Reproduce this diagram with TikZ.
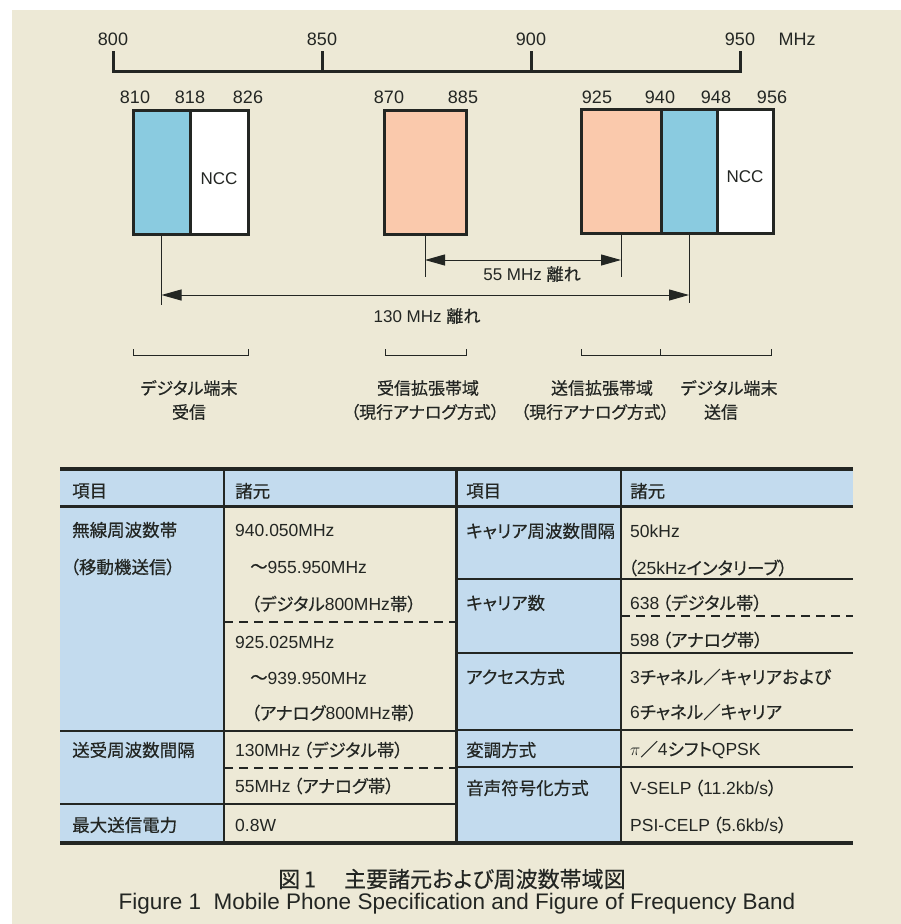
\documentclass[tikz,border=0pt]{standalone}
\usepackage{fontspec}
\setmainfont{Liberation Sans}
\newfontfamily\jp[RawFeature=+palt,FakeBold=0.4]{Noto Sans CJK JP}
\usetikzlibrary{arrows.meta}
\definecolor{bg}{RGB}{237,233,214}
\definecolor{bandblue}{RGB}{138,203,224}
\definecolor{salmon}{RGB}{250,201,172}
\definecolor{tblue}{RGB}{195,219,238}
\definecolor{ink}{RGB}{35,38,35}
\begin{document}
\begin{tikzpicture}[x=1pt,y=-1pt,
  cell/.style={draw=ink,line width=3pt,inner sep=0pt,outer sep=0pt,anchor=north west,minimum height=124pt},
  conn/.style={draw=ink,line width=1pt},
  dim/.style={conn,{Triangle[length=20pt,width=11pt]}-{Triangle[length=20pt,width=11pt]}},
  axisline/.style={draw=ink,line width=3pt},
  num/.style={inner sep=0pt,text=ink,font=\fontsize{18}{20}\selectfont},
  lab/.style={inner sep=0pt,text=ink,font=\fontsize{17}{20}\selectfont},
  tx/.style={inner sep=0pt,text=ink,anchor=west,font=\fontsize{17.5}{20}\selectfont},
  heavyrule/.style={draw=ink,line width=3.5pt},
  midrule/.style={draw=ink,line width=3pt},
  thinrule/.style={draw=ink,line width=1.3pt},
  dashrule/.style={draw=ink,line width=1.3pt,dash pattern=on 9pt off 6pt},
  bracket/.style={draw=ink,line width=1pt}
]
\useasboundingbox (0,0) rectangle (901,924);
\fill[bg] (12,10) rectangle (901,924);

% ---- frequency axis
\draw[axisline] (113,51) -- (113,71) -- (740,71) -- (740,51);
\draw[axisline] (322,71) -- (322,51);
\draw[axisline] (531,71) -- (531,51);
\node[num] (a800) at (113,39) {800};
\node[num] (a850) at (322,39) {850};
\node[num] (a900) at (531,39) {900};
\node[num] (a950) at (740,39) {950};
\node[num] (amhz) at (797,39) {MHz};

% ---- band boxes
\node[cell,fill=bandblue,minimum width=57pt] (b1a) at (133,110) {};
\node[cell,fill=white,minimum width=58pt] (b1b) at (190,110) {};
\node[lab] (ncc1) at (219,179) {NCC};
\node[cell,fill=salmon,minimum width=82pt] (b2) at (384,110) {};
\node[cell,fill=salmon,minimum width=80pt] (c3a) at (581,109) {};
\node[cell,fill=bandblue,minimum width=56pt] (c3b) at (661,109) {};
\node[cell,fill=white,minimum width=56pt] (c3c) at (717,109) {};
\node[lab] (ncc2) at (745,177) {NCC};

\node[num] (n810) at (135,97) {810};
\node[num] (n818) at (190,97) {818};
\node[num] (n826) at (248,97) {826};
\node[num] (n870) at (389,97) {870};
\node[num] (n885) at (463,97) {885};
\node[num] (n925) at (597,97) {925};
\node[num] (n940) at (660,97) {940};
\node[num] (n948) at (716,97) {948};
\node[num] (n956) at (772,97) {956};

% ---- separation connectors
\coordinate (e1) at (0,305);
\coordinate (e2) at (0,277);
\coordinate (e4) at (0,303);
\coordinate (y55) at (0,260);
\coordinate (y130) at (0,295);
\draw[conn] (b1a.south) -- (b1a.south |- e1);
\draw[conn] (b2.south) -- (b2.south |- e2);
\draw[conn] (c3a.south) -- (c3a.south |- e2);
\draw[conn] (c3b.south) -- (c3b.south |- e4);
\draw[dim] (b2.south |- y55) -- (c3a.south |- y55);
\draw[dim] (b1a.south |- y130) -- (c3b.south |- y130);
\node[lab] (l55) at (532,274) {55 MHz {\jp 離れ}};
\node[lab] (l130) at (427,316) {130 MHz {\jp 離れ}};

% ---- brackets
\draw[bracket] (133,349) -- (133,355) -- (248,355) -- (248,349);
\draw[bracket] (385,349) -- (385,355) -- (466,355) -- (466,349);
\draw[bracket] (581,349) -- (581,355) -- (771,355) -- (771,349);
\draw[bracket] (660,349) -- (660,355);
\node[lab] (d1a) at (189,388) {\jp デジタル端末};
\node[lab] (d1b) at (189,412) {\jp 受信};
\node[lab] (d2a) at (428,388) {\jp 受信拡張帯域};
\node[lab] (d2b) at (425,412) {\jp （現行アナログ方式）};
\node[lab] (d3a) at (602,388) {\jp 送信拡張帯域};
\node[lab] (d3b) at (595,412) {\jp （現行アナログ方式）};
\node[lab] (d4a) at (729,388) {\jp デジタル端末};
\node[lab] (d4b) at (721,412) {\jp 送信};

% ---- table fills
\fill[tblue] (60,469) rectangle (853,506);
\fill[tblue] (60,506) rectangle (224,843);
\fill[tblue] (456,506) rectangle (621,843);

% ---- table rules
\draw[thinrule] (224,469) -- (224,843);
\draw[thinrule] (621,469) -- (621,843);
\draw[thinrule] (60,731) -- (456,731);
\draw[thinrule] (60,804) -- (456,804);
\draw[thinrule] (456,579) -- (853,579);
\draw[thinrule] (456,653) -- (853,653);
\draw[thinrule] (456,730) -- (853,730);
\draw[thinrule] (456,767) -- (853,767);
\draw[dashrule] (224,622) -- (456,622);
\draw[dashrule] (224,768) -- (456,768);
\draw[dashrule] (621,616) -- (853,616);
\draw[heavyrule] (60,469) -- (853,469);
\draw[midrule] (60,506) -- (853,506);
\draw[heavyrule] (60,843) -- (853,843);
\draw[midrule] (456,469) -- (456,843);

% ---- table text, left half
\node[tx] (h1) at (72,491) {\jp 項目};
\node[tx] (h2) at (235,491) {\jp 諸元};
\node[tx] (r1a) at (72,530) {\jp 無線周波数帯};
\node[tx] (r1b) at (70,567) {\jp （移動機送信）};
\node[tx] (v1) at (235,530) {940.050MHz};
\node[tx] (v2) at (250,567) {{\jp ～}955.950MHz};
\node[tx] (v3) at (251,604) {{\jp （デジタル}800MHz{\jp 帯）}};
\node[tx] (v4) at (235,642) {925.025MHz};
\node[tx] (v5) at (250,678) {{\jp ～}939.950MHz};
\node[tx] (v6) at (251,713) {{\jp （アナログ}800MHz{\jp 帯）}};
\node[tx] (r2) at (72,750) {\jp 送受周波数間隔};
\node[tx] (v7) at (235,750) {130MHz\,{\jp （デジタル帯）}};
\node[tx] (v8) at (235,786) {55MHz\,{\jp （アナログ帯）}};
\node[tx] (r3) at (72,825) {\jp 最大送信電力};
\node[tx] (v9) at (235,825) {0.8W};

% ---- table text, right half
\node[tx] (h3) at (466,491) {\jp 項目};
\node[tx] (h4) at (630,491) {\jp 諸元};
\node[tx] (s1) at (466,531) {\jp キャリア周波数間隔};
\node[tx] (w1) at (630,531) {50kHz};
\node[tx] (w2) at (628,568) {{\jp （}25kHz{\jp インタリーブ）}};
\node[tx] (s2) at (466,603) {\jp キャリア数};
\node[tx] (w3) at (630,603) {638\,{\jp （デジタル帯）}};
\node[tx] (w4) at (630,640) {598\,{\jp （アナログ帯）}};
\node[tx] (s3) at (466,677) {\jp アクセス方式};
\node[tx] (w5) at (630,677) {3{\jp チャネル／キャリアおよび}};
\node[tx] (w6) at (630,712) {6{\jp チャネル／キャリア}};
\node[tx] (s4) at (466,750) {\jp 変調方式};
\node[tx] (w7) at (630,750) {$\pi${\jp ／}4{\jp シフト}QPSK};
\node[tx] (s5) at (466,788) {\jp 音声符号化方式};
\node[tx] (w8) at (630,788) {V-SELP\,{\jp （}11.2kb/s{\jp ）}};
\node[tx] (w9) at (630,825) {PSI-CELP\,{\jp （}5.6kb/s{\jp ）}};

% ---- caption
\node[inner sep=0pt,text=ink,anchor=west,font=\fontsize{22}{24}\selectfont] (cap1) at (278,879) {\jp 図\,1\hspace{28pt}主要諸元および周波数帯域図};
\node[inner sep=0pt,text=ink,font=\fontsize{22.5}{24}\selectfont] (cap2) at (457,904) {Figure 1\ \ Mobile Phone Specification and Figure of Frequency Band};
\end{tikzpicture}
\end{document}
